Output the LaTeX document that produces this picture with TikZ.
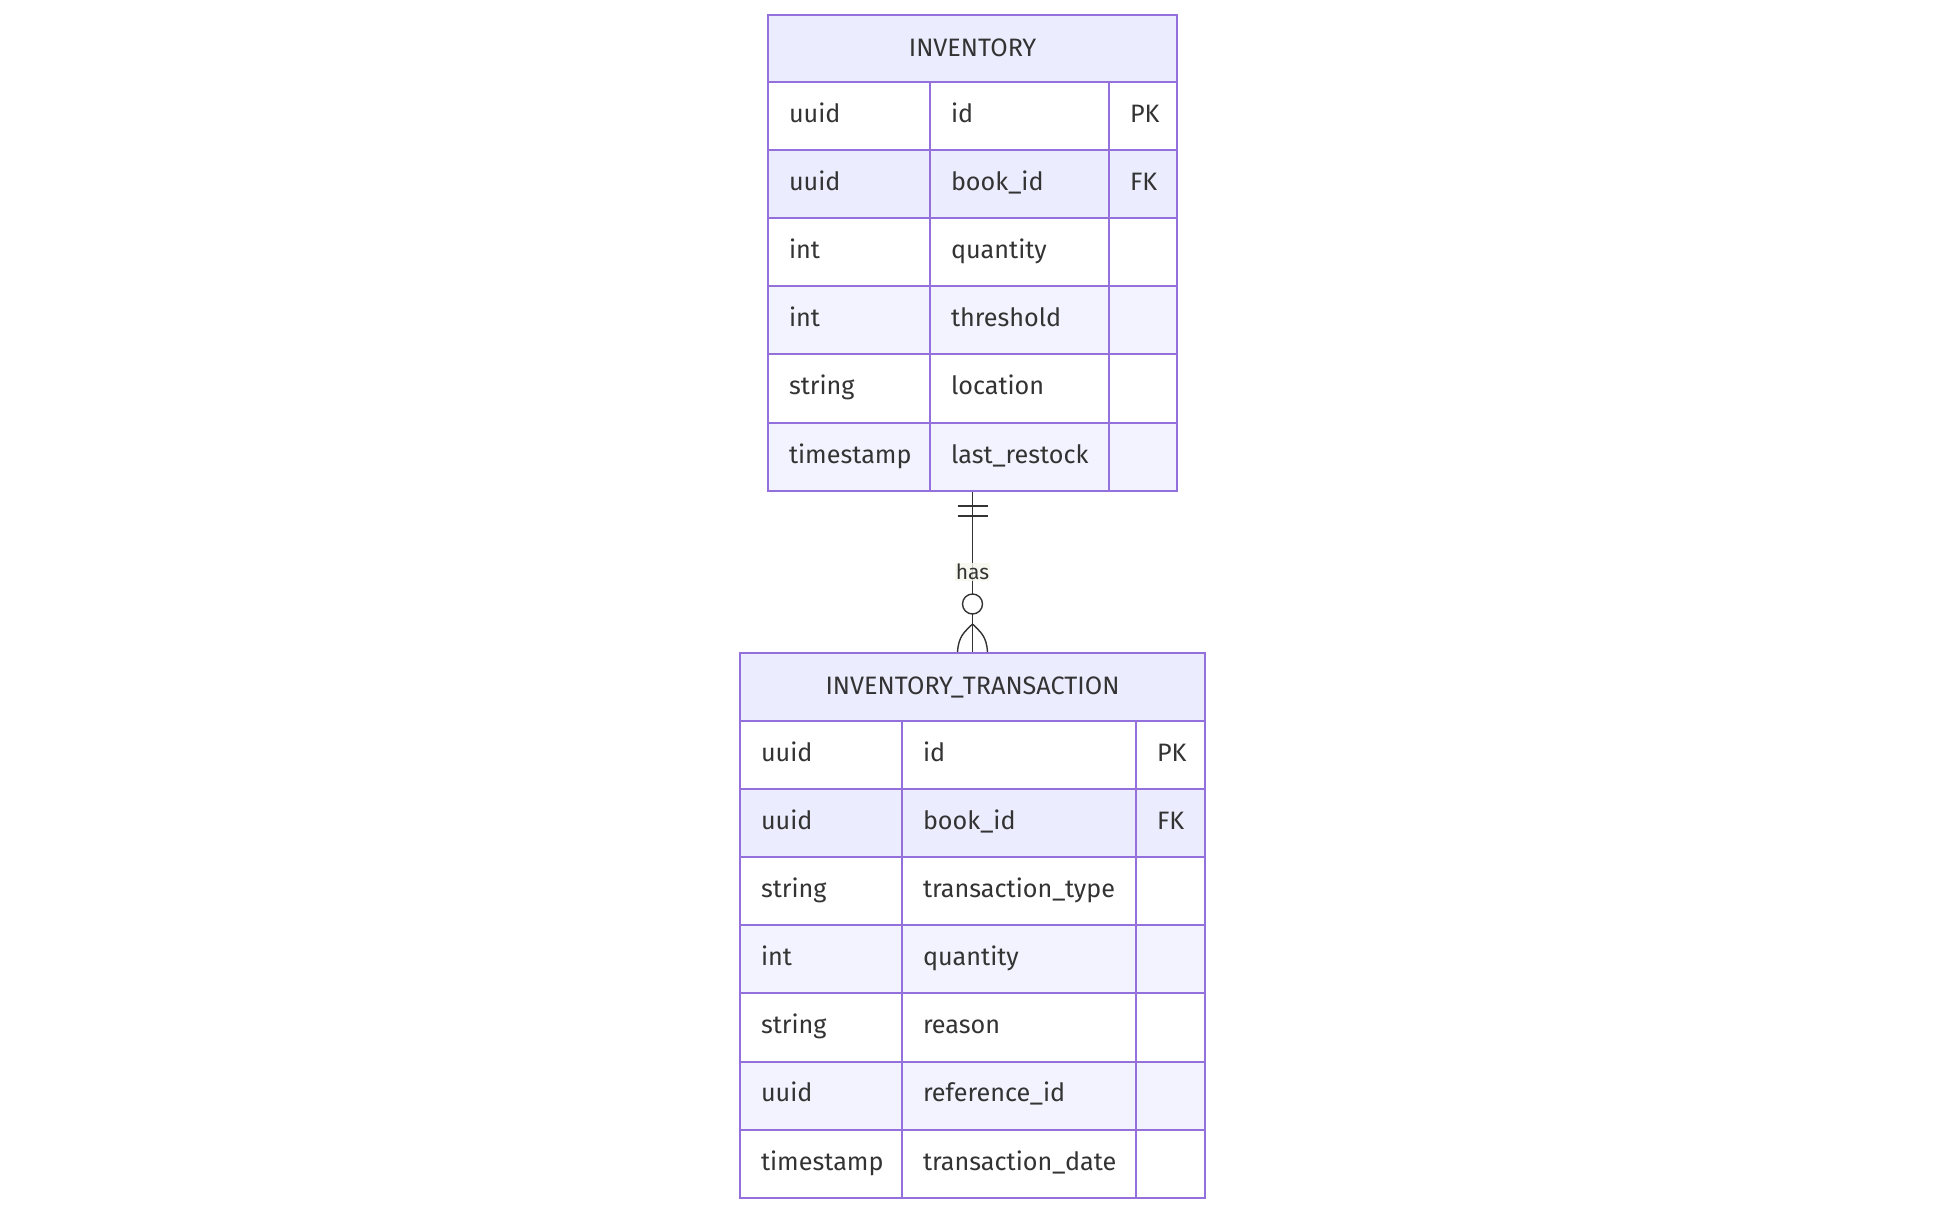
\documentclass[tikz,border=0pt]{standalone}
\usepackage{fontspec}
\setmainfont{Fira Sans}
\definecolor{erborder}{HTML}{9370DB}
\definecolor{erhead}{HTML}{ECECFF}
\definecolor{errowkey}{HTML}{ECECFF}
\definecolor{errowalt}{HTML}{F3F3FF}
\definecolor{ertext}{HTML}{333333}
\definecolor{erline}{HTML}{333333}
\definecolor{erlabel}{HTML}{F5F8EC}
\begin{document}
\begin{tikzpicture}[
  x=0.5pt, y=-0.5pt,
  every node/.style={font=\fontsize{12.6}{15}\selectfont, text=ertext},
  entity/.style={draw=erborder, line width=1pt, fill=erhead, inner sep=0pt, anchor=north west},
  cell/.style={draw=erborder, line width=1pt, inner xsep=10.5pt, inner ysep=0pt,
    minimum height=34.1pt, anchor=north west, align=left, text height=9.3pt, text depth=3pt},
  relation/.style={draw=erline, line width=0.7pt},
  rellabel/.style={font=\fontsize{10.5}{12}\selectfont, fill=erlabel, fill opacity=0.8,
    text opacity=1, inner sep=0.5pt}
]
\useasboundingbox (0,0) rectangle (1944,1211);

% INVENTORY
\node[entity, minimum width=204.5pt, minimum height=33.5pt] (inv) at (767,13.5) {INVENTORY};
\foreach \ty/\nm/\ky/\bg [count=\i] in {uuid/id/PK/white, uuid/book\_id/FK/errowkey,
    int/quantity//white, int/threshold//errowalt, string/location//white,
    timestamp/last\_restock//errowalt}{
  \node[cell, fill=\bg, text width=60pt] (inv-t\i) at (767,{80.6+(\i-1)*68.2}) {\ty};
  \node[cell, fill=\bg, text width=68.5pt] (inv-n\i) at (929,{80.6+(\i-1)*68.2}) {\nm};
  \node[cell, fill=\bg, text width=13pt] (inv-k\i) at (1108,{80.6+(\i-1)*68.2}) {\ky};
}

% INVENTORY_TRANSACTION
\node[entity, minimum width=232.5pt, minimum height=34pt] (trx) at (739,652) {INVENTORY\_TRANSACTION};
\foreach \ty/\nm/\ky/\bg [count=\i] in {uuid/id/PK/white, uuid/book\_id/FK/errowkey,
    string/transaction\_type//white, int/quantity//errowalt, string/reason//white,
    uuid/reference\_id//errowalt, timestamp/transaction\_date//white}{
  \node[cell, fill=\bg, text width=60pt] (trx-t\i) at (739,{720+(\i-1)*68.1}) {\ty};
  \node[cell, fill=\bg, text width=96pt] (trx-n\i) at (901,{720+(\i-1)*68.1}) {\nm};
  \node[cell, fill=\bg, text width=13.5pt] (trx-k\i) at (1135,{720+(\i-1)*68.1}) {\ky};
}

% relation: exactly one to zero or more
\coordinate (invbot) at (inv.center |- inv-n6.south);
\coordinate (trxtop) at (trx.north);
\draw[relation] (invbot) -- node[rellabel] (has) {has} (trxtop);
\draw[relation] ([shift={(-15,14)}]invbot) -- ++(30,0);
\draw[relation] ([shift={(-15,24)}]invbot) -- ++(30,0);
\draw[relation, fill=white] ([shift={(0,-48)}]trxtop) circle[radius=5pt];
\draw[relation] ([shift={(-15,0)}]trxtop) .. controls +(1,-16) and +(-8,8) .. ([shift={(0,-28)}]trxtop)
  .. controls +(8,8) and +(-1,-16) .. ([shift={(15,0)}]trxtop);
\end{tikzpicture}
\end{document}
